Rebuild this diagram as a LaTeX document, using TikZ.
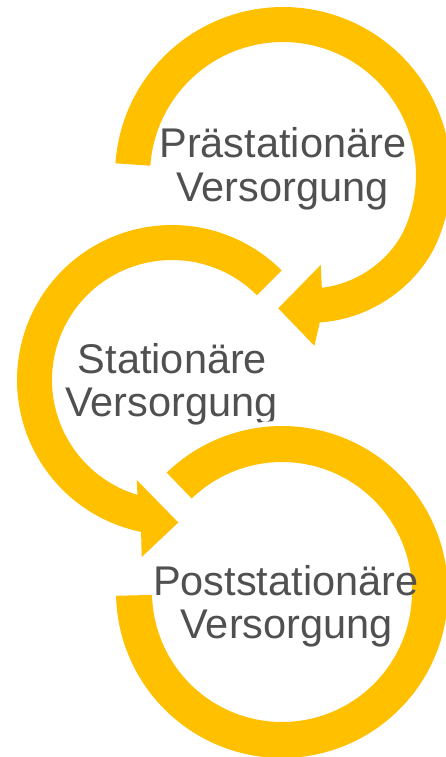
\documentclass[tikz,border=0pt]{standalone}
\usepackage{fontspec}
\setmainfont{Liberation Sans}
\definecolor{ringgold}{RGB}{255,192,0}
\definecolor{labelgray}{RGB}{80,80,80}
\tikzset{
  ring/.style={fill=ringgold, preaction={draw=white, line width=10pt}},
  caption/.style={text=labelgray, anchor=base, inner sep=0pt, font=\fontsize{41.5}{44.4}\selectfont},
  declare function={taper(\t)=16*(max(0,-25-\t)/51)*sqrt(max(0,-25-\t)/51);}
}

\begin{document}
\begin{tikzpicture}[x=1pt, y=-1pt]
    \useasboundingbox (0,0) rectangle (445,757);

    \coordinate (preLow) at (314.3,345.7);
    \coordinate (preTip) at (278.3,308.3);
    \coordinate (preUp) at (320.7,265);
    \path [ring] plot [domain=176:-76, samples=120] ({283+(168-taper(\x))*cos(\x)}, {175-(168-taper(\x))*sin(\x)})
        -- (preLow) -- (preTip) -- (preUp)
        -- plot [domain=-71:176, samples=120] ({283+(133-taper(\x))*cos(\x)}, {175-(133-taper(\x))*sin(\x)}) -- cycle;
    \node [caption] (pre1) at (282.8,157.3) {Prästationäre};
    \node [caption] (pre2) at (282.5,201.7) {Versorgung};

    \coordinate (statLow) at (141.7,557);
    \coordinate (statTip) at (178.3,522.5);
    \coordinate (statUp) at (136.7,480);
    \path [ring] plot [domain=45:258.5, samples=120] ({172+155*cos(\x)}, {380-155*sin(\x)})
        -- (statLow) -- (statTip) -- (statUp)
        -- plot [domain=253.3:45, samples=120] ({172+120*cos(\x)}, {380-120*sin(\x)}) -- cycle;
    \node [caption] (stat1) at (172.5,373.3) {Stationäre};
    \node [caption] (stat2) at (171.5,416.7) {Versorgung};

    \path [ring] plot [domain=134:-178.7, samples=150] ({282+166*cos(\x)}, {592-166*sin(\x)})
        -- plot [domain=-178.7:134, samples=150] ({282+130*cos(\x)}, {592-130*sin(\x)}) -- cycle;
    \node [caption] (post1) at (285.8,595) {Poststationäre};
    \node [caption] (post2) at (286.7,638.3) {Versorgung};
\end{tikzpicture}
\end{document}
